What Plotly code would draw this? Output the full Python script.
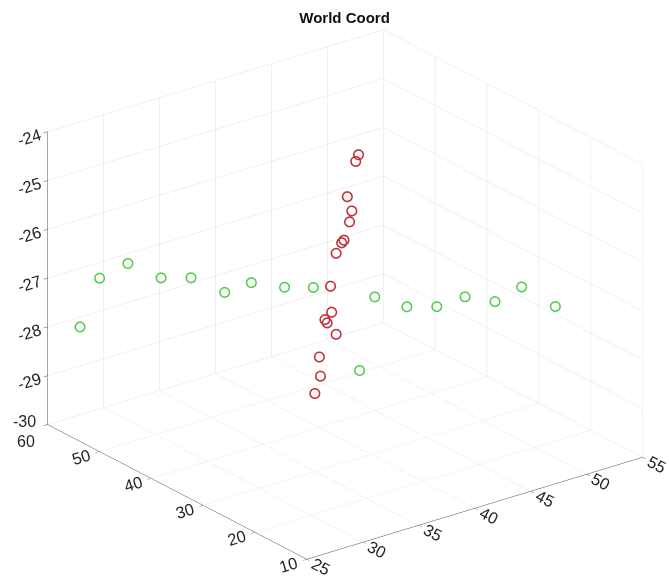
import math
import plotly.graph_objects as go

# Green marker set (world coordinates)
green_x = [26.3, 27.4, 29.0, 30.9, 32.6, 34.5, 36.0, 37.9, 39.5, 43.0, 44.8, 46.5, 48.1, 49.8, 51.3, 53.2, 42.1]
green_y = [56.6, 55.2, 53.2, 50.9, 48.8, 46.4, 44.5, 42.2, 40.1, 35.8, 33.5, 31.4, 29.4, 27.3, 25.4, 23.0, 36.8]
green_z = [-27.9, -26.9, -26.6, -26.9, -26.9, -27.2, -27.0, -27.1, -27.1, -27.3, -27.5, -27.5, -27.3, -27.4, -27.1, -27.5, -28.8]

# Red marker set (world coordinates)
red_x = [42.1, 41.85, 41.1, 41.5, 41.3, 40.8, 40.6, 40.1, 39.6, 39.7, 39.1, 39.3, 40.1, 38.6, 38.7, 38.2]
red_y = [37.0] * 16
red_z = [-24.39, -24.51, -25.18, -25.50, -25.71, -26.05, -26.09, -26.27, -26.91, -27.45, -27.56, -27.64, -27.93, -28.29, -28.69, -29.01]

x_ticks = [25, 30, 35, 40, 45, 50, 55]
y_ticks = [10, 20, 30, 40, 50, 60]
z_ticks = [-30, -29, -28, -27, -26, -25, -24]

FONT = "Liberation Sans, Arial, Helvetica, sans-serif"
AXIS_COLOR = "#4d4d4d"
TEXT_COLOR = "#262626"
GRID_COLOR = "#e3e3e3"

fig = go.Figure()
fig.add_trace(go.Scatter3d(
    x=green_x, y=green_y, z=green_z, mode="markers",
    marker=dict(symbol="circle-open", size=6, color="#4fcf4f", line=dict(width=2, color="#4fcf4f")),
    hoverinfo="skip", showlegend=False,
))
fig.add_trace(go.Scatter3d(
    x=red_x, y=red_y, z=red_z, mode="markers",
    marker=dict(symbol="circle-open", size=6, color="#c03038", line=dict(width=2, color="#c03038")),
    hoverinfo="skip", showlegend=False,
))

def axis(rng, ticks, hide=None):
    # the label at the shared corner (y=60 / z=-30) is placed separately below
    text = ["" if t == hide else str(t) for t in ticks]
    return dict(
        range=rng, tickvals=ticks, ticktext=text,
        title=dict(text=""), showbackground=False,
        showgrid=True, gridcolor=GRID_COLOR, gridwidth=1,
        showline=True, linecolor=AXIS_COLOR, linewidth=1,
        ticks="outside", ticklen=5, tickcolor=AXIS_COLOR,
        tickfont=dict(family=FONT, size=14, color=TEXT_COLOR),
        zeroline=False, showspikes=False, autorange=False,
    )

# view direction: azimuth ~232.6 deg, elevation ~23.4 deg
az = math.radians(232.6)
el = math.radians(23.4)
direction = (math.cos(el) * math.cos(az), math.cos(el) * math.sin(az), math.sin(el))
# small sideways pan of the look-at point (screen-right vector = (-sin az, cos az, 0))
pan = -0.036
center = dict(x=pan * -math.sin(az), y=pan * math.cos(az), z=0.0)
r = 2.0
eye = dict(x=center["x"] + r * direction[0], y=center["y"] + r * direction[1], z=center["z"] + r * direction[2])

# orthographic zoom is carried by the aspect ratio
zoom = 1.44

corner_labels = [
    dict(x=25, y=60, z=-30, text="-30", showarrow=False, xanchor="right", yanchor="middle",
         xshift=-10, yshift=3, font=dict(family=FONT, size=16, color=TEXT_COLOR)),
    dict(x=25, y=60, z=-30, text="60", showarrow=False, xanchor="center", yanchor="middle",
         xshift=-22, yshift=-17, font=dict(family=FONT, size=16, color=TEXT_COLOR)),
]

fig.update_layout(
    width=669, height=588,
    margin=dict(l=0, r=0, t=0, b=0),
    paper_bgcolor="white",
    title=dict(text="<b>World Coord</b>", x=0.515, xanchor="center", y=0.97, yanchor="middle",
               font=dict(family=FONT, size=15, color="#111111")),
    scene=dict(
        domain=dict(x=[0.0, 1.0], y=[0.0, 0.998]),
        xaxis=axis([25, 55], x_ticks),
        yaxis=axis([10, 60], y_ticks, hide=60),
        zaxis=axis([-30, -24], z_ticks, hide=-30),
        aspectmode="manual",
        aspectratio=dict(x=1.0 * zoom, y=1.01 * zoom, z=0.755 * zoom),
        camera=dict(eye=eye, center=center, up=dict(x=0, y=0, z=1),
                    projection=dict(type="orthographic")),
        bgcolor="white",
        annotations=corner_labels,
    ),
)

fig.write_html("out.html")
